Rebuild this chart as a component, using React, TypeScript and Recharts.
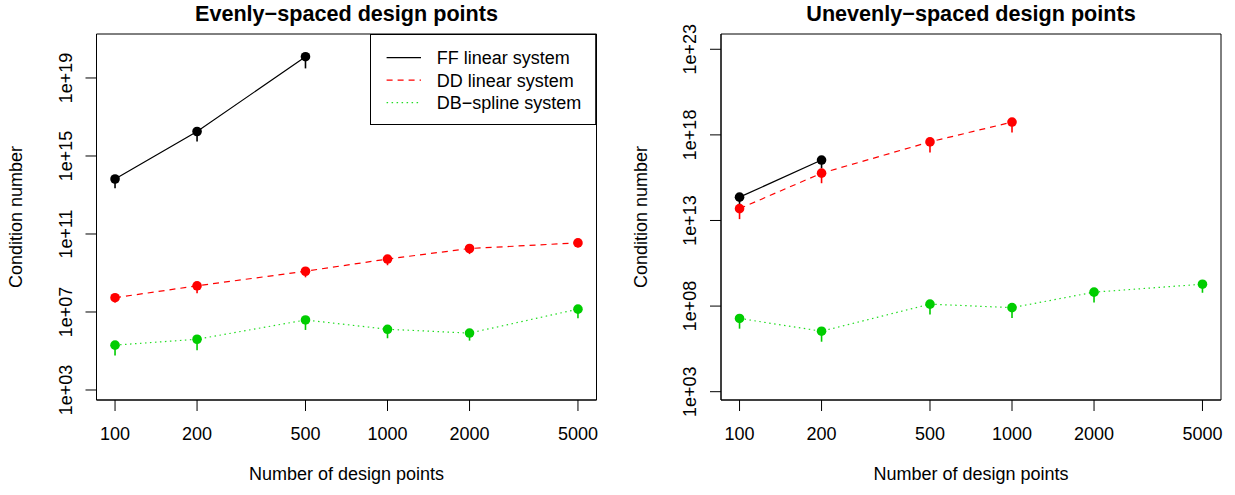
import React from 'react';
import { ComposedChart, Line, XAxis, YAxis, ErrorBar, ReferenceArea, Legend } from 'recharts';

const FONT = '"Liberation Sans", Arial, Helvetica, sans-serif';

const designPoints = [100, 200, 500, 1000, 2000, 5000];
const xTicks = [100, 200, 500, 1000, 2000, 5000];
const xDomain: [number, number] = [85.5, 5848];

// Evenly-spaced design points: condition number and lower end of its bar
const evenFF = [6.6e13, 1.8e16, 1.23e20, null, null, null];
const evenFFLow = [2.2e13, 5.5e15, 3.1e19, null, null, null];
const evenDD = [5.4e7, 2.2e8, 1.23e9, 5.2e9, 1.8e10, 3.5e10];
const evenDDLow = [3.1e7, 9.1e7, 6.0e8, 2.5e9, 9.3e9, 2.1e10];
const evenDB = [2.0e5, 4.0e5, 3.9e6, 1.3e6, 8.3e5, 1.4e7];
const evenDBLow = [5.8e4, 1.1e5, 1.2e6, 4.5e5, 3.4e5, 4.8e6];
const evenYTicks = [1e3, 1e7, 1e11, 1e15, 1e19];
const evenYDomain: [number, number] = [307, 1.8e21];

// Unevenly-spaced design points
const unevenFF = [2.3e14, 3.4e16, null, null, null, null];
const unevenFFLow = [7.9e13, 1.1e16, null, null, null, null];
const unevenDD = [4.9e13, 5.8e15, 3.9e17, 5.6e18, null, null];
const unevenDDLow = [1.2e13, 1.5e15, 9.5e16, 1.4e18, null, null];
const unevenDB = [1.9e7, 3.4e6, 1.3e8, 8.1e7, 6.5e8, 1.9e9];
const unevenDBLow = [4.8e6, 8.3e5, 3.2e7, 2.0e7, 1.6e8, 6.0e8];
const unevenYTicks = [1e3, 1e8, 1e13, 1e18, 1e23];
const unevenYDomain: [number, number] = [327, 7.8e23];

const SERIES = [
  { key: 'ff', name: 'FF linear system', color: '#000000', lineColor: '#000000', dash: undefined as string | undefined },
  { key: 'dd', name: 'DD linear system', color: '#FF0000', lineColor: '#FF0000', dash: '6 5' },
  { key: 'db', name: 'DB\u2212spline system', color: '#00CD00', lineColor: '#22DD22', dash: '1.5 3.5' },
];

type Num = number | null;

const err = (v: Num, lo: Num) => (v != null && lo != null ? [v - lo, 0] : undefined);

const buildRows = (ff: Num[], ffLo: Num[], dd: Num[], ddLo: Num[], db: Num[], dbLo: Num[]) =>
  designPoints.map((n, i) => ({
    n,
    ff: ff[i] ?? undefined,
    ffErr: err(ff[i], ffLo[i]),
    dd: dd[i] ?? undefined,
    ddErr: err(dd[i], ddLo[i]),
    db: db[i] ?? undefined,
    dbErr: err(db[i], dbLo[i]),
  }));

const evenRows = buildRows(evenFF, evenFFLow, evenDD, evenDDLow, evenDB, evenDBLow);
const unevenRows = buildRows(unevenFF, unevenFFLow, unevenDD, unevenDDLow, unevenDB, unevenDBLow);

const HEIGHT = 495;
const PLOT_TOP = 34;
const PLOT_BOTTOM = 400;

const sciLabel = (v: number) => {
  const e = Math.round(Math.log10(v));
  return `1e+${String(e).padStart(2, '0')}`;
};

const XTick = (props: any) => {
  const { x, y, payload } = props;
  return (
    <text x={x} y={y} textAnchor="middle" fontSize={18} fontFamily={FONT} fill="#000">
      {payload.value}
    </text>
  );
};

const YTick = (props: any) => {
  const { x, y, payload } = props;
  return (
    <text
      x={0}
      y={0}
      transform={`translate(${x},${y}) rotate(-90)`}
      textAnchor="middle"
      fontSize={18}
      fontFamily={FONT}
      fill="#000"
    >
      {sciLabel(payload.value)}
    </text>
  );
};

const LegendBox = ({ width }: { width: number }) => (
  <svg width={width} height={91} style={{ display: 'block' }}>
    <rect x={0.5} y={0.5} width={width - 1} height={90} fill="#fff" stroke="#000" strokeWidth={1} />
    {SERIES.map((s, i) => {
      const cy = 23.7 + i * 22.5;
      return (
        <g key={s.key}>
          <line x1={16.6} x2={51} y1={cy} y2={cy} stroke={s.lineColor} strokeWidth={1.2} strokeDasharray={s.dash} />
          <text x={66.8} y={cy + 6.5} fontSize={18} fontFamily={FONT} fill="#000">
            {s.name}
          </text>
        </g>
      );
    })}
  </svg>
);

interface PanelProps {
  left: number;
  width: number;
  plotLeft: number;
  plotRight: number;
  rows: any[];
  yDomain: [number, number];
  yTicks: number[];
  showLegend?: boolean;
}

const Panel = ({ left, width, plotLeft, plotRight, rows, yDomain, yTicks, showLegend }: PanelProps) => {
  const legendLeft = 370.3;
  return (
    <div style={{ position: 'absolute', left, top: 0, width, height: HEIGHT }}>
      <ComposedChart
        width={width}
        height={HEIGHT}
        data={rows}
        margin={{ top: PLOT_TOP, right: width - plotRight, bottom: 0, left: 0 }}
      >
        <XAxis
          dataKey="n"
          type="number"
          scale="log"
          domain={xDomain}
          allowDataOverflow
          ticks={xTicks}
          interval={0}
          height={HEIGHT - PLOT_BOTTOM}
          tickSize={11}
          tickMargin={29}
          stroke="#000"
          tick={XTick}
        />
        <YAxis
          type="number"
          scale="log"
          domain={yDomain}
          allowDataOverflow
          ticks={yTicks}
          interval={0}
          width={plotLeft}
          tickSize={11}
          tickMargin={14}
          stroke="#000"
          tick={YTick}
        />
        <ReferenceArea
          x1={xDomain[0]}
          x2={xDomain[1]}
          y1={yDomain[0]}
          y2={yDomain[1]}
          fill="none"
          fillOpacity={0}
          stroke="#000"
          strokeWidth={1}
          ifOverflow="visible"
        />
        {SERIES.map((s) => (
          <Line
            key={s.key}
            dataKey={s.key}
            name={s.name}
            type="linear"
            stroke={s.lineColor}
            strokeWidth={1.2}
            strokeDasharray={s.dash}
            dot={{ r: 4.8, fill: s.color, stroke: 'none' }}
            activeDot={false}
            isAnimationActive={false}
          >
            <ErrorBar dataKey={`${s.key}Err`} direction="y" width={0} stroke={s.color} strokeWidth={1.6} />
          </Line>
        ))}
        {showLegend && (
          <Legend
            layout="vertical"
            verticalAlign="middle"
            align="center"
            wrapperStyle={{ left: legendLeft, top: PLOT_TOP, width: plotRight - legendLeft, height: 91 }}
            content={() => <LegendBox width={plotRight - legendLeft} />}
          />
        )}
      </ComposedChart>
    </div>
  );
};

const LEFT_PANEL = { left: 0, width: 617, plotLeft: 96.5, plotRight: 596.5 };
const RIGHT_PANEL = { left: 617, width: 618, plotLeft: 104, plotRight: 604 };

const titles = [
  { panel: LEFT_PANEL, text: 'Evenly\u2212spaced design points' },
  { panel: RIGHT_PANEL, text: 'Unevenly\u2212spaced design points' },
];

export default function App() {
  return (
    <div style={{ position: 'absolute', left: 0, top: 0, width: 1235, height: HEIGHT, background: '#fff', fontFamily: FONT }}>
      <Panel {...LEFT_PANEL} rows={evenRows} yDomain={evenYDomain} yTicks={evenYTicks} showLegend />
      <Panel {...RIGHT_PANEL} rows={unevenRows} yDomain={unevenYDomain} yTicks={unevenYTicks} />
      <svg
        width={1235}
        height={HEIGHT}
        style={{ position: 'absolute', left: 0, top: 0, pointerEvents: 'none' }}
      >
        {titles.map(({ panel, text }) => {
          const cx = panel.left + (panel.plotLeft + panel.plotRight) / 2;
          const yx = panel.left + panel.plotLeft - 74.5;
          const cy = (PLOT_TOP + PLOT_BOTTOM) / 2;
          return (
            <g key={text} fontFamily={FONT} fill="#000">
              <text x={cx} y={21} textAnchor="middle" fontSize={21.6} fontWeight="bold">
                {text}
              </text>
              <text x={cx} y={480} textAnchor="middle" fontSize={18}>
                Number of design points
              </text>
              <text x={0} y={0} transform={`translate(${yx},${cy}) rotate(-90)`} textAnchor="middle" fontSize={18}>
                Condition number
              </text>
            </g>
          );
        })}
      </svg>
    </div>
  );
}
